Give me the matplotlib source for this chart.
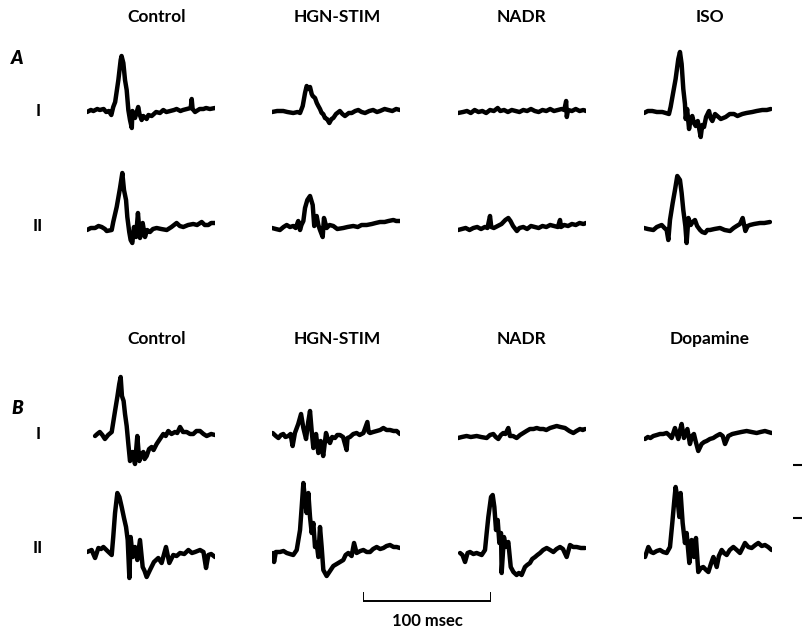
import matplotlib
matplotlib.use("Agg")
import matplotlib.pyplot as plt
import numpy as np

plt.rcParams['font.family'] = ['Lato', 'DejaVu Sans']

W, H = 803, 636

# traces: (time in msec, amplitude in arbitrary units, upward positive)
A_I_control = [(0, -1), (3, 1), (5, 0), (8, 2), (10, 1), (13, 2), (15, -1), (17, 0), (19, -4),
               (20.5, 4), (22, 9), (24.5, 31), (26.3, 51), (27, 55), (28.4, 48), (29.7, 31),
               (31, 21), (32.3, 1), (33.6, -9), (35, -17), (35.5, 0), (37.5, -7), (40, 4),
               (41, -3), (42.7, -9), (44, -5), (46.6, -8), (48, -4), (50.5, -5), (54, -1),
               (57, -2), (59.6, 1), (62, -1), (65, 0), (68, 1), (70, 2), (73, 0), (75, 1),
               (78, 2), (81, 3), (81.8, 12), (82.5, 2), (84.4, -1), (88, 2), (91, 2), (93, 3),
               (96, 2), (100, 3)]
A_I_hgn = [(0, -1), (4, 0), (8.8, 0), (12, -1), (16.6, -2), (20, -1), (21.9, -2), (24, 5),
           (25.8, 18), (27.1, 25), (28.5, 22), (29.7, 24), (31, 17), (31.8, 15), (33.6, 13),
           (35, 8), (36.2, 5), (37.5, 2), (38.8, -2), (40, -3), (41.4, -7), (43, -8),
           (44.8, -12), (46.5, -8), (47.9, -7), (50, -3), (53, 0), (55, -3), (57, -5),
           (60, -2), (62.3, -2), (65, 0), (67.4, 1), (70, -1), (72.7, -2), (76, 0), (79, 1),
           (82, -1), (84.4, 0), (88, 2), (90.9, 1), (94, 0), (97, 2), (100, 1)]
A_I_nadr = [(0, -2), (4, -1), (7, 0), (10, -2), (13, 1), (16, -1), (19, 0), (22, -2), (25, 1),
            (28, 0), (31, 3), (33, 0), (36, 1), (39, -1), (42, 1), (45, 0), (48, -1), (51, 1),
            (54, 0), (57, 2), (60, 0), (63, -1), (66, 1), (69, 0), (72, 2), (75, 0), (78, 1),
            (81, 2), (83, 1), (84.5, 10), (85, -6), (86, 1), (89, 0), (92, 2), (95, 0),
            (98, 1), (100, 0)]
A_I_iso = [(0, -2), (3, 0), (6.5, 0), (10, -1), (14.3, -1), (17, -2), (19.5, -3), (20.8, 4),
           (22.6, 17), (24.7, 32), (26.8, 52), (28.1, 59), (29.4, 47), (30.7, 22), (32, 7),
           (32.6, -8), (33.7, 2), (35.2, -18), (36.5, -8), (37.7, -5), (39, -12), (40.4, -15),
           (42, -10), (44.3, -26), (45.5, -14), (46.9, -16), (48.5, -6), (50.8, 0), (52, -7),
           (53.4, -10), (55.5, -3), (57.3, -5), (60, -8), (63.8, -6), (67, -3), (70.3, -3),
           (73, -5), (76.8, -3), (80, -2), (84.6, -1), (88, 0), (92.4, 1), (96, 1), (99, 2)]

A_II_control = [(0, -2), (3, 0), (6.3, 0), (9, 2), (11.5, 1), (14, -1), (15.4, -3), (19.3, -2),
                (20.5, 6), (23.2, 21), (25.8, 40), (27.6, 55), (28.9, 38), (30.5, 28),
                (31.5, 11), (33, -4), (34.1, -12), (35.4, -15), (36.7, 1), (38.3, -9),
                (39.8, 15), (41.4, -10), (43.5, 5), (45.3, -9), (47, -2), (49.2, -4),
                (51.5, -1), (54.4, 0), (58, -1), (62.3, -2), (66, 1), (70, 5), (72.5, 2),
                (75.2, 1), (79, 3), (83, 4), (86, 3), (89.6, 6), (92, 3), (94.8, 3), (97, 5),
                (100, 5)]
A_II_hgn = [(0, 0), (3, -1), (6.2, -2), (9, 1), (11.5, 3), (14, 1), (16.6, 2), (18.5, 0),
            (20.5, 7), (21.9, -2), (23, 3), (24.5, 7), (25.8, 20), (27.6, 28), (29.7, 32),
            (31.8, 23), (33, 2), (34.9, 12), (36.2, 3), (37.5, -2), (39.6, -9), (40.6, 10),
            (42.7, 0), (45, 3), (47.9, 2), (51, -1), (55.7, 0), (59, 1), (63.5, 2), (67, 1),
            (70, 3), (74, 3), (78, 4), (81, 5), (84.4, 6), (88, 6), (91, 7), (94.8, 8),
            (97, 7), (100, 7)]
A_II_nadr = [(0, -2), (3, -1), (6, 0), (9, -2), (12, 0), (15, 1), (18, -1), (21, 1), (23, 0),
             (25, 12), (26, 1), (28, 0), (31, 2), (34, 4), (37, 8), (39.3, 10), (41, 7),
             (43, 2), (46, -3), (48, 0), (51, 1), (54, -1), (57, 2), (60, 1), (63, 0), (66, 2),
             (69, 1), (72, 3), (75, 2), (78, 1), (79.7, 8), (80.5, 1), (83, 3), (86, 2),
             (89, 4), (92, 3), (95, 5), (98, 4), (100, 5)]
A_II_iso = [(0, 0), (3, -1), (7.3, -2), (10, 1), (13.8, 3), (16, 0), (17.7, -2), (19, -12),
            (20.3, 8), (22.4, 25), (24.2, 38), (26, 52), (28.1, 48), (29.4, 35), (30.7, 18),
            (32.3, 2), (33.3, -15), (34.7, 10), (36.5, 3), (38, 6), (39.8, 8), (41.5, 2),
            (43.8, -2), (45.5, -4), (47.7, -5), (49.5, -2), (51.6, -2), (55, -1), (59.4, 0),
            (63, -2), (67.2, -3), (70, 0), (72.4, 2), (75, 4), (77.1, 10), (79.2, -3),
            (81, 2), (82.8, 3), (86, 4), (90.6, 5), (94, 5), (98.4, 6)]

B_I_control = [(6.3, -2), (8, 0), (10, 2), (12, -1), (14, -5), (16.5, -1), (19.3, 2),
               (21.9, 23), (23.7, 37), (25.2, 50), (26.3, 57), (27.3, 38), (28.6, 33),
               (29.7, 20), (31, 8), (32.3, -10), (33.6, -27), (35.7, -18), (37.5, -30),
               (39.3, -2), (40.9, -27), (42.5, -20), (44, -18), (45, -25), (46.6, -22),
               (48.5, -15), (50.5, -13), (52, -16), (54.4, -10), (57, -5), (59.6, 0),
               (61.5, -2), (63.5, 3), (66, 0), (68.7, 2), (70.5, 1), (72.7, 7), (75, 2),
               (77.9, 2), (80.5, 0), (83, 0), (85.5, 3), (88.3, 3), (91, 0), (93.5, -2),
               (97, 0), (100, -1)]
B_II_control = [(0, -1), (3.6, 1), (6.3, -7), (8.9, 3), (11, 2), (12.8, 4), (16, 0), (19.3, -4),
                (20.5, 14), (21.9, 38), (23.7, 58), (25.3, 54), (27.1, 44), (28.9, 33),
                (30.5, 24), (31.8, 11), (33.1, -27), (34.1, 14), (35.7, -6), (37.5, 4),
                (39.3, -9), (41.4, 11), (43.5, -16), (45, -20), (46.6, -26), (49.2, -19),
                (52.3, -11), (55.7, -7), (58.3, -12), (61.7, 4), (64.3, -12), (67.4, -4),
                (70, -5), (72.7, -2), (76, -3), (79.2, 1), (82, -2), (84.4, -1), (88.3, 1),
                (91, -1), (93, -17), (94.8, -4), (97, -3), (100, -6)]
B_I_hgn = [(0.5, 1), (3, -2), (5, -4), (7, -1), (8.8, 0), (10.5, -3), (12.7, -2), (14.5, 0),
           (16.1, -12), (17.9, 1), (20.5, 10), (22.7, 20), (24.5, 6), (26.6, -5), (28.3, 12),
           (29.7, 23), (31, 3), (32.3, -14), (34.4, 0), (36.2, -19), (38, -7), (40, -22),
           (42.2, 1), (43.8, -6), (45.3, -9), (47, -3), (49.2, -4), (51, -1), (53.1, -1),
           (55.5, -3), (58.3, -16), (59, -4), (60.9, -3), (63.5, 0), (66.1, 1), (68.5, -1),
           (71.4, 1), (74.5, 12), (75.5, 2), (76.6, 1), (79, 2), (81.8, 3), (84.5, 4),
           (87, 6), (89.5, 4), (92.2, 4), (95, 3), (97.4, 3), (100, 0)]
B_II_hgn = [(1, -2), (1.6, -11), (3, -1), (6.2, -1), (9, 0), (11.5, -2), (14, -3), (16.6, -4),
            (19.3, 1), (21.9, 21), (23.2, 44), (24.5, 68), (25.8, 51), (27.1, 38),
            (28.4, 58), (29.7, 34), (31, 18), (32.3, 28), (33.6, 4), (34.9, 8), (36.2, -6),
            (37.5, 24), (38.8, 4), (40.1, -19), (42.7, -25), (45.3, -20), (47.9, -15),
            (51.8, -12), (55.7, -9), (57.5, -4), (59.6, -2), (62.2, -5), (64.1, 8),
            (66.1, -2), (69, 0), (71.4, 1), (74, -1), (76.6, -1), (79, 2), (81.8, 4),
            (84.5, 2), (87, 3), (89.5, 5), (92.2, 6), (95, 4), (97.4, 4), (100, 3)]
B_I_nadr = [(0, -4), (3, -3), (6.7, -2), (10, -3), (14.6, -2), (18, -3), (22.4, -4),
            (25, -1), (27.6, 0), (29.5, -3), (31.5, -5), (33.5, -1), (35.4, 1), (37, 0),
            (39.3, 6), (40.6, -2), (43, -2), (45.8, -4), (48.5, -1), (51, 1), (53.5, 3),
            (56.2, 5), (59, 5), (61.5, 6), (64, 5), (66.7, 5), (69, 4), (71.9, 6), (74.5, 7),
            (77.1, 8), (80, 7), (83.6, 6), (87, 3), (90.1, 1), (92.5, 3), (95.3, 5),
            (97.5, 4), (99.2, 5)]
B_II_nadr = [(1.6, -2), (3.5, -4), (5.5, -11), (7.5, -2), (9.4, -1), (12, -3), (14.6, -2),
             (16.5, -3), (18.5, -4), (21.1, 1), (22.4, 18), (23.7, 34), (25.8, 54), (27.1, 56),
             (28.4, 44), (29.7, 21), (31, 31), (32.3, 8), (33.6, 18), (34.1, -22), (35.9, 14),
             (37.5, 4), (39.3, 9), (41.2, -16), (43.3, -21), (45.8, -24), (47.5, -22),
             (49.7, -24), (52.3, -16), (54, -14), (56.2, -12), (58, -8), (60.2, -6),
             (62, -4), (64.1, -2), (66.5, 1), (69.3, 3), (72, 1), (74.5, -1), (77, 2),
             (79.7, 4), (82, 2), (84.9, -6), (87.5, 6), (90, 4), (92.7, 4), (96, 3),
             (99.2, 3)]
B_I_dopa = [(0.8, -5), (3, -3), (5, -4), (7.3, -2), (10, -1), (12.5, 0), (15, 0), (17.7, 1),
            (19.5, -1), (21.6, -4), (24.2, 6), (26.8, -5), (28, 3), (29.4, 10), (31.2, -4),
            (33.9, 5), (35.9, -10), (37.5, -2), (39, 0), (40.5, -8), (42.4, -17), (45, -10),
            (47, -8), (48.9, -7), (51.5, -5), (54.1, -4), (56.5, -2), (59.4, 0), (61.5, -2),
            (63.3, -10), (65.9, -2), (69, 0), (72.4, 1), (76, 2), (80.2, 3), (84, 2),
            (88, 1), (91, 2), (94.5, 3), (97, 2), (99.7, 1)]
B_II_dopa = [(0.8, -6), (3.4, 4), (5.5, -1), (7.3, -2), (10, 0), (12.5, 1), (15, -1),
             (17.7, -2), (20.3, 4), (22.1, 28), (23.7, 51), (24.7, 64), (26, 54), (27.6, 34),
             (28.6, 58), (30.2, 28), (32, 8), (33.3, 18), (35.4, -12), (37.2, 11), (39, -6),
             (40.6, 13), (42.4, -21), (44.5, -17), (46.3, -16), (48.5, -19), (50.3, -21),
             (52.5, -12), (54.2, -6), (56.8, -16), (58.5, -5), (60.7, 1), (62.5, -2),
             (64.6, -4), (67, 1), (69.8, 4), (72.5, 1), (75, -2), (77, 3), (78.9, 8),
             (81.5, 4), (84.1, 3), (87, 6), (89.3, 8), (92, 5), (94.5, 6), (97, 4),
             (99.7, 1)]

col_titles_A = ['Control', 'HGN-STIM', 'NADR', 'ISO']
col_titles_B = ['Control', 'HGN-STIM', 'NADR', 'Dopamine']
rows = [
    [A_I_control, A_I_hgn, A_I_nadr, A_I_iso],
    [A_II_control, A_II_hgn, A_II_nadr, A_II_iso],
    [B_I_control, B_I_hgn, B_I_nadr, B_I_dopa],
    [B_II_control, B_II_hgn, B_II_nadr, B_II_dopa],
]
scale_msec = 100
calib = [33, 86]   # the two dashes at the right, same units as the traces

fig = plt.figure(figsize=(W / 100, H / 100), dpi=100)
fig.patch.set_facecolor('white')

col_x = [87, 272, 458, 644]
row_base = [111, 228, 434, 551]
px_per_ms = 1.28


def fig_axes(x0, base, width_ms=100, lo=-40, hi=80):
    # axes in pixel layout, x in msec, y in trace units (1 unit = 1 px)
    w = width_ms * px_per_ms
    ax = fig.add_axes([x0 / W, 1 - (base - lo) / H, w / W, (hi - lo) / H])
    ax.set_xlim(0, width_ms)
    ax.set_ylim(lo, hi)
    ax.axis('off')
    return ax


def ftext(x, y, s, **kw):
    fig.text(x / W, 1 - y / H, s, ha='center', va='center', **kw)


for r, traces in enumerate(rows):
    for c, tr in enumerate(traces):
        ax = fig_axes(col_x[c], row_base[r])
        t = np.array([p[0] for p in tr])
        v = np.array([p[1] for p in tr])
        ax.plot(t, v, color='black', lw=3.2, solid_joinstyle='round', solid_capstyle='round')

title_x = [157, 337, 522, 710]
for c in range(4):
    ftext(title_x[c], 17, col_titles_A[c], fontsize=12.5, fontweight='bold')
    ftext(title_x[c], 339, col_titles_B[c], fontsize=12.5, fontweight='bold')

ftext(17, 59, 'A', fontsize=13.5, fontweight='heavy', style='italic')
ftext(17, 408, 'B', fontsize=13.5, fontweight='heavy', style='italic')
for y, s in zip([111, 226, 434, 548], ['I', 'II', 'I', 'II']):
    ftext(38, y, s, fontsize=12.5, fontweight='bold')

# time scale bar
sb = fig_axes(363, 601, width_ms=scale_msec)
sb.plot([0, 0, scale_msec, scale_msec], [8, 0, 0, 8], color='black', lw=1.4)
ftext(427, 621, '100 msec', fontsize=12, fontweight='bold')

# voltage calibration dashes at the right edge
cal = fig_axes(793, 551, width_ms=10 / px_per_ms, lo=-10, hi=100)
for v in calib:
    cal.plot([0, 10 / px_per_ms], [v, v], color='black', lw=1.5)

fig.savefig('out.png', dpi=100, facecolor='white')
